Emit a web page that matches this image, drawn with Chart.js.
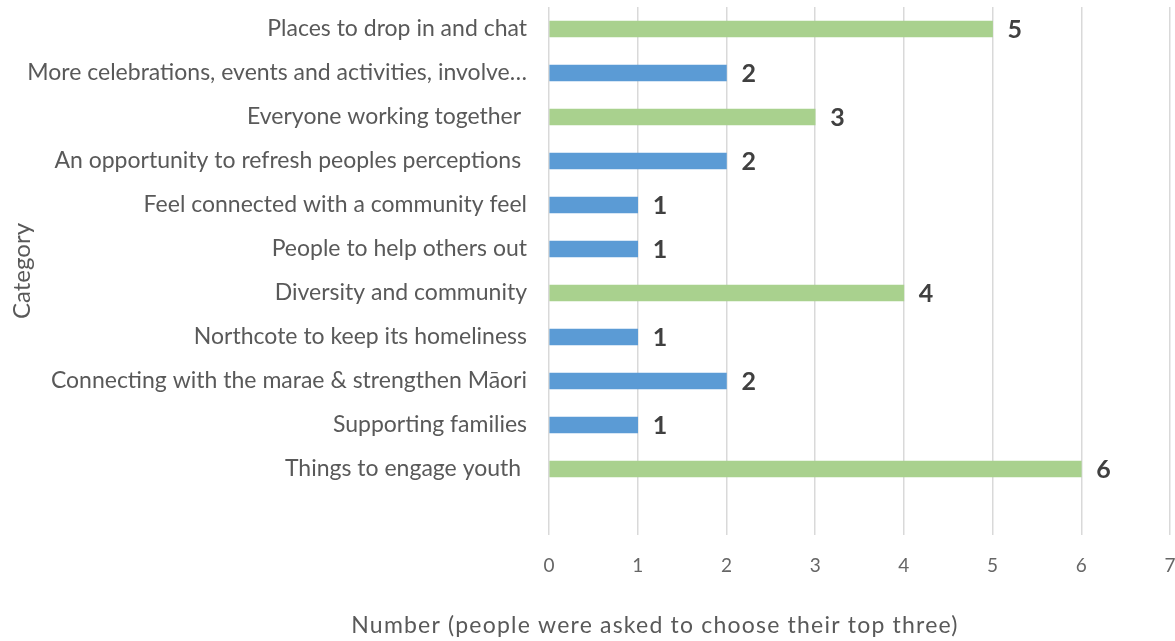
<!DOCTYPE html>
<html>
<head>
<meta charset="utf-8">
<script src="https://cdn.jsdelivr.net/npm/chart.js@4"></script>
<style>
  html, body { margin: 0; padding: 0; background: #fff; }
  #wrap { width: 1175px; height: 641px; }
</style>
</head>
<body>
<div id="wrap"><canvas id="myChart"></canvas></div>
<script>
  const categories = [
    "Places to drop in and chat",
    "More celebrations, events and activities, involve…",
    "Everyone working together ",
    "An opportunity to refresh peoples perceptions ",
    "Feel connected with a community feel",
    "People to help others out",
    "Diversity and community",
    "Northcote to keep its homeliness",
    "Connecting with the marae & strengthen Māori",
    "Supporting families",
    "Things to engage youth ",
    ""
  ];
  const counts = [5, 2, 3, 2, 1, 1, 4, 1, 2, 1, 6, null];
  const xTicks = [0, 1, 2, 3, 4, 5, 6, 7];
  const xTitle = "Number (people were asked to choose their top three)";
  const yTitle = "Category";

  const FONT = "Lato, sans-serif";
  const green = "#A9D18E";
  const blue = "#5B9BD5";

  // value labels at the end of each bar, plus the x title placed like Excel does
  const extras = {
    id: "extras",
    afterDatasetsDraw(chart) {
      const ctx = chart.ctx;
      ctx.save();
      ctx.font = "bold 25px " + FONT;
      ctx.fillStyle = "#404040";
      ctx.textAlign = "left";
      ctx.textBaseline = "middle";
      chart.getDatasetMeta(0).data.forEach((bar, i) => {
        if (counts[i] == null) return;
        ctx.fillText(String(counts[i]), bar.x + 15, bar.y + 1);
      });
      ctx.font = "23px " + FONT;
      ctx.letterSpacing = "1.2px";
      ctx.fillStyle = "#595959";
      ctx.textAlign = "center";
      ctx.fillText(xTitle, 655, 626);
      ctx.restore();
    }
  };

  const ctx = document.getElementById("myChart");

  new Chart(ctx, {
    type: "bar",
    data: {
      labels: categories,
      datasets: [
        {
          data: counts,
          backgroundColor: (c) => (c.raw >= 3 ? green : blue),
          barThickness: 16,
        },
      ],
    },
    options: {
      indexAxis: "y",
      responsive: true,
      maintainAspectRatio: false,
      animation: false,
      layout: { padding: { top: 7, right: 5, left: 0, bottom: 0 } },
      plugins: {
        legend: { display: false },
        tooltip: { enabled: false },
      },
      scales: {
        x: {
          min: 0,
          max: 7,
          afterBuildTicks: (s) => {
            s.ticks = xTicks.map((v) => ({ value: v }));
          },
          afterFit: (s) => {
            s.height = 106;
            s.paddingLeft = 0;
            s.paddingRight = 0;
          },
          grid: { color: "#D9D9D9", lineWidth: 1.5, drawTicks: false },
          border: { display: false },
          ticks: {
            padding: 19,
            color: "#666666",
            font: { family: FONT, size: 19 },
          },
        },
        y: {
          afterFit: (s) => {
            s.width = 549;
            s.paddingTop = 0;
            s.paddingBottom = 0;
          },
          grid: { display: false, drawTicks: false },
          border: { display: false },
          ticks: {
            padding: 22,
            color: "#595959",
            autoSkip: false,
            font: { family: FONT, size: 23 },
          },
          title: {
            display: true,
            text: yTitle,
            color: "#595959",
            padding: { top: 8, bottom: 0 },
            font: { family: FONT, size: 24 },
          },
        },
      },
    },
    plugins: [extras],
  });
</script>
</body>
</html>
